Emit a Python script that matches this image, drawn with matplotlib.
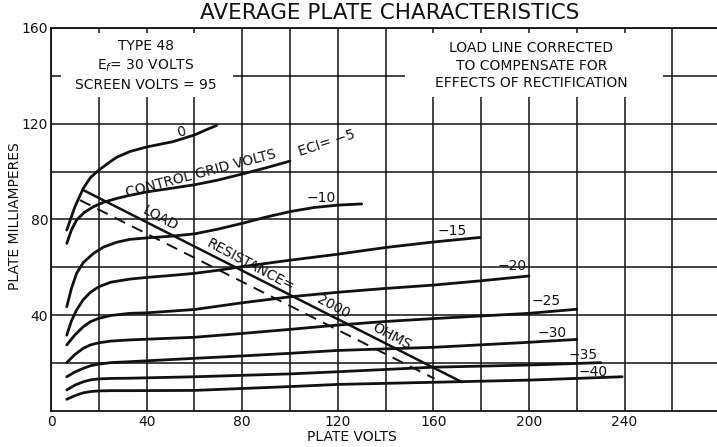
import matplotlib
matplotlib.use("Agg")
import matplotlib.pyplot as plt
from matplotlib.patches import Rectangle

# ---------------- data ----------------
grid_volt_labels = ["0", "\u221210", "\u221215", "\u221220", "\u221225", "\u221230", "\u221235", "\u221240"]

v_ec0 = [6.6, 8.3, 10, 13.5, 16.5, 20, 24, 27.5, 33, 40, 51, 60, 65, 69.3]
i_ec0 = [75.6, 80.5, 85.3, 93.0, 97.5, 100.6, 103.6, 106.0, 108.4, 110.3, 112.5, 115.3, 117.5, 119.3]

v_ec5 = [6.6, 8.5, 10.7, 14, 17.7, 22, 27.5, 33, 40, 50, 60, 70, 80, 90, 100]
i_ec5 = [70.0, 75.5, 79.8, 83.0, 85.3, 87.2, 88.8, 90.1, 91.5, 93.0, 94.5, 96.5, 99.0, 101.6, 104.4]

v_ec10 = [6.6, 8.5, 10.7, 13.5, 17.7, 22, 27.5, 33, 40, 50, 60, 70, 80, 90, 100, 110, 120, 130]
i_ec10 = [43.6, 51.0, 57.5, 62.0, 65.8, 68.5, 70.5, 71.7, 72.3, 73.0, 74.0, 76.0, 78.4, 81.0, 83.3, 85.0, 86.0, 86.5]

v_ec15 = [6.6, 8.5, 10.7, 13.5, 16.5, 20, 25, 33, 40, 50, 60, 70, 80, 100, 120, 140, 160, 179.5]
i_ec15 = [31.7, 37.5, 42.2, 46.5, 49.6, 51.9, 53.8, 55.1, 55.8, 56.6, 57.5, 58.8, 60.3, 63.0, 65.5, 68.3, 70.6, 72.5]

v_ec20 = [6.6, 10, 13.5, 16.5, 20, 25, 33, 40, 60, 80, 100, 120, 140, 160, 180, 200]
i_ec20 = [27.6, 31.8, 35.2, 37.3, 38.7, 39.9, 40.8, 41.0, 42.4, 45.2, 47.7, 49.6, 51.2, 52.6, 54.4, 56.4]

v_ec25 = [6.6, 10, 13.5, 16.5, 20, 25, 33, 60, 80, 100, 120, 140, 160, 200, 220]
i_ec25 = [20.2, 23.6, 26.2, 27.6, 28.5, 29.2, 29.7, 30.8, 32.4, 34.1, 35.9, 37.4, 38.6, 40.8, 42.5]

v_ec30 = [6.6, 10, 13.5, 16.5, 20, 25, 33, 60, 80, 100, 120, 160, 200, 220]
i_ec30 = [14.3, 16.3, 17.8, 18.9, 19.6, 20.2, 20.6, 22.0, 23.0, 24.1, 25.3, 26.6, 28.7, 29.9]

v_ec35 = [6.6, 10, 13.5, 16.5, 20, 25, 33, 60, 100, 120, 160, 200, 230]
i_ec35 = [8.8, 10.8, 12.2, 13.0, 13.4, 13.6, 13.7, 14.3, 15.5, 16.4, 18.3, 19.2, 20.2]

v_ec40 = [6.6, 10, 13.5, 16.5, 20, 25, 33, 60, 100, 120, 160, 200, 239]
i_ec40 = [4.9, 6.4, 7.6, 8.1, 8.4, 8.5, 8.5, 8.6, 10.2, 11.1, 12.0, 12.9, 14.3]

load_v = [13.5, 171.7]
load_i = [92.3, 12.2]
corrected_v = [12.1, 160.5]
corrected_i = [88.1, 13.5]

x_ticks = [0, 40, 80, 120, 160, 200, 240]
y_ticks = [40, 80, 120, 160]

# ---------------- figure ----------------
W, H = 717, 447
fig = plt.figure(figsize=(W / 100, H / 100), dpi=100)
ax = fig.add_axes([51 / W, 36 / H, 666 / W, 383 / H])
ax.set_xlim(0, 278.7)
ax.set_ylim(0, 160)

ink = "#111111"
ax.set_xticks(x_ticks)
ax.set_xticks([20, 60, 100, 140, 180, 220, 260], minor=True)
ax.set_yticks(y_ticks)
ax.set_yticks([20, 60, 100, 140], minor=True)
ax.grid(True, which="both", color=ink, lw=1.1)
ax.set_axisbelow(True)
ax.tick_params(which="both", length=0, labelsize=10, colors=ink)
ax.tick_params(axis="x", pad=3)
ax.tick_params(axis="y", pad=2)
for s in ["left", "bottom", "top"]:
    ax.spines[s].set_linewidth(1.3)
    ax.spines[s].set_color(ink)
ax.spines["right"].set_visible(False)

# white panels behind the notes
ax.add_patch(Rectangle((4, 131), 72, 27, facecolor="white", edgecolor="none", zorder=1))
ax.add_patch(Rectangle((148, 131), 108, 27, facecolor="white", edgecolor="none", zorder=1))

curves = [(v_ec0, i_ec0), (v_ec5, i_ec5), (v_ec10, i_ec10), (v_ec15, i_ec15),
          (v_ec20, i_ec20), (v_ec25, i_ec25), (v_ec30, i_ec30), (v_ec35, i_ec35),
          (v_ec40, i_ec40)]
for v, i in curves:
    ax.plot(v, i, color=ink, lw=2.0, solid_capstyle="round", solid_joinstyle="round", zorder=3)

ax.plot(load_v, load_i, color=ink, lw=1.8, zorder=3)
ax.plot(corrected_v, corrected_i, color=ink, lw=1.4, linestyle=(0, (6, 4)), zorder=3)

# curve labels
fs = 10
label_pos = [(54.7, 116.5, 15), (113, 89, 0), (168, 75, 0), (193, 60.6, 0),
             (207, 46, 0), (209.5, 32.7, 0), (222.5, 23.4, 0), (227, 16.4, 0)]
for txt, (x, y, r) in zip(grid_volt_labels, label_pos):
    ax.text(x, y, txt, fontsize=fs, ha="center", va="center", rotation=r, color=ink, zorder=4)

ax.text(62.7, 99.3, "CONTROL GRID VOLTS", fontsize=fs, ha="center", va="center",
        rotation=14.7, color=ink, zorder=4)
ax.text(115.4, 112, "ECI= \u22125", fontsize=fs, ha="center", va="center",
        rotation=18, color=ink, zorder=4)

ax.text(45.6, 80.6, "LOAD", fontsize=fs, ha="center", va="center", rotation=-28, color=ink, zorder=4)
ax.text(83.3, 60.7, "RESISTANCE=", fontsize=fs, ha="center", va="center", rotation=-28, color=ink, zorder=4)
ax.text(118.1, 43.6, "2000", fontsize=fs, ha="center", va="center", rotation=-28, color=ink, zorder=4)
ax.text(142.4, 31, "OHMS", fontsize=fs, ha="center", va="center", rotation=-28, color=ink, zorder=4)

ax.text(39.7, 144.3, "TYPE 48\nE$_f$= 30 VOLTS\nSCREEN VOLTS = 95", fontsize=10,
        ha="center", va="center", linespacing=1.35, color=ink, zorder=4)
ax.text(201, 144.3, "LOAD LINE CORRECTED\nTO COMPENSATE FOR\nEFFECTS OF RECTIFICATION",
        fontsize=10, ha="center", va="center", linespacing=1.35, color=ink, zorder=4)

fig.text(390 / W, 1 - 13 / H, "AVERAGE PLATE CHARACTERISTICS", fontsize=15.5,
         ha="center", va="center", color=ink)
fig.text(352 / W, 1 - 437 / H, "PLATE VOLTS", fontsize=10, ha="center", va="center", color=ink)
fig.text(15 / W, 1 - 216 / H, "PLATE MILLIAMPERES", fontsize=10, ha="center", va="center",
         rotation=90, color=ink)

fig.savefig("out.png", dpi=100)
